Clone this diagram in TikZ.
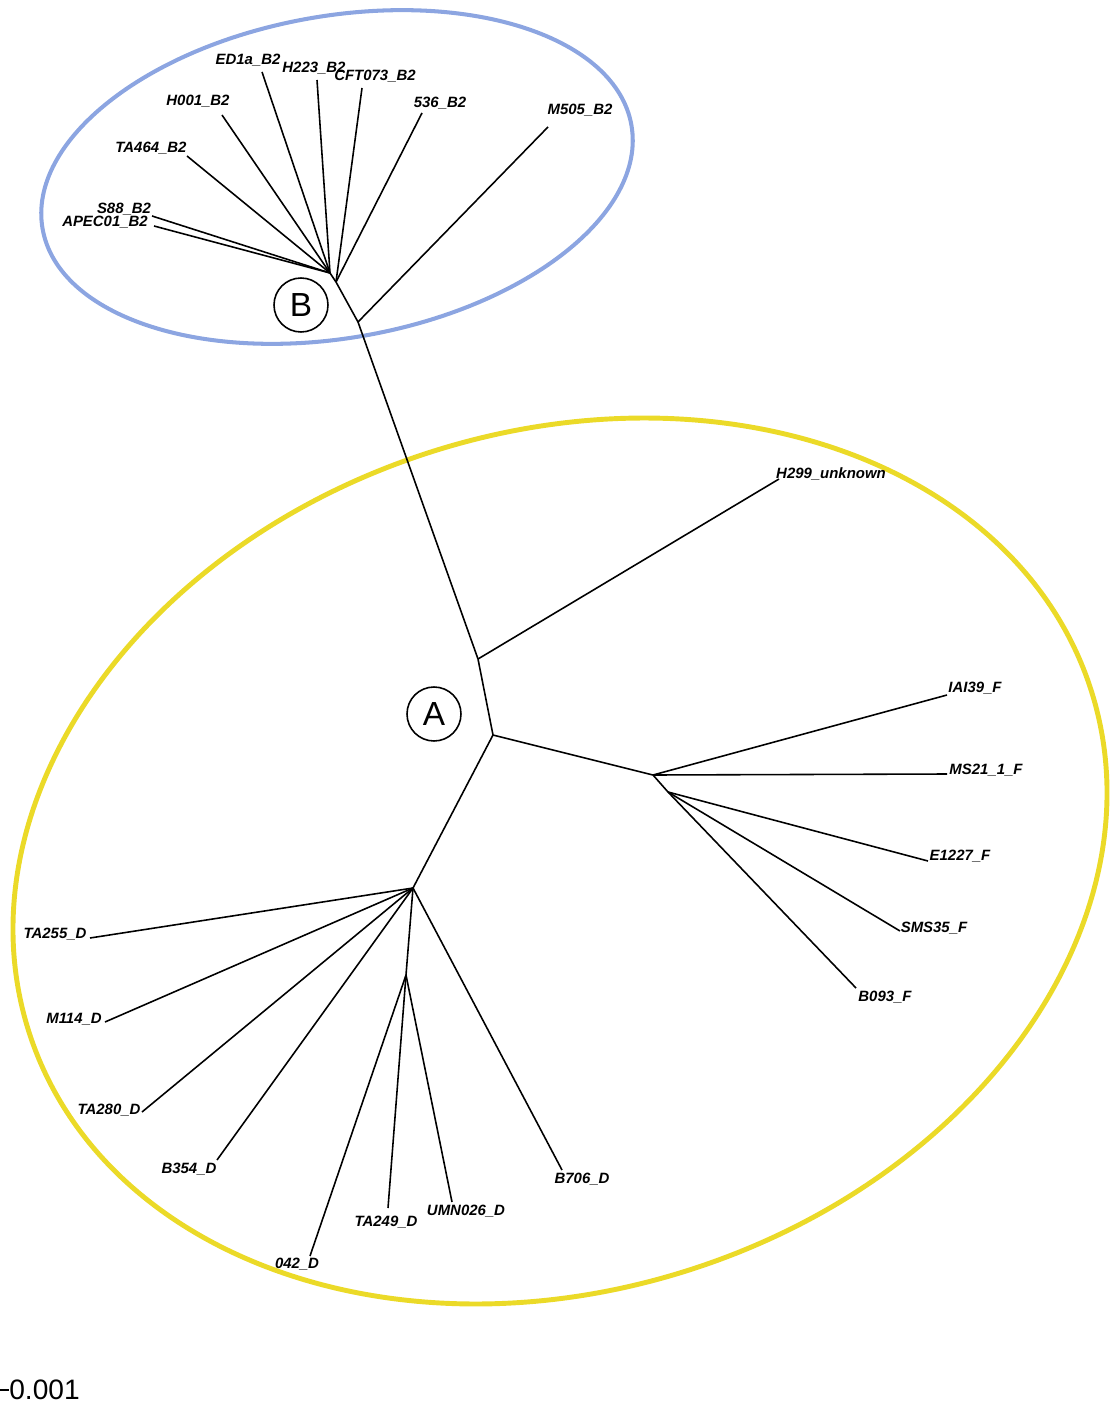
\documentclass[tikz,border=0pt]{standalone}
\usepackage{fontspec}
\setmainfont{Liberation Sans}
\definecolor{blueell}{RGB}{140,165,225}
\definecolor{yellowell}{RGB}{235,218,40}
\begin{document}
\begin{tikzpicture}[x=0.02cm,y=-0.02cm,
  lab/.style={font=\fontsize{8.5}{9}\selectfont\bfseries\itshape, inner sep=0pt},
  br/.style={line width=0.9pt, black},
  tag/.style={circle, draw, line width=0.9pt, minimum size=1.08cm, inner sep=0pt, font=\fontsize{19}{20}\selectfont}]
\useasboundingbox (0,0) rectangle (1116,1405);
% group ellipses
\draw[blueell, line width=2.3pt, rotate around={10:(337,177)}] (337,177) ellipse [x radius=5.98cm, y radius=3.22cm];
\draw[yellowell, line width=2.8pt, rotate around={18:(560,861)}] (560,861) ellipse [x radius=11.16cm, y radius=8.58cm];
% internal nodes
\coordinate (b1) at (330,273);
\coordinate (b2) at (336,282);
\coordinate (b3) at (358,322);
\coordinate (h) at (478,659);
\coordinate (c) at (493,735);
\coordinate (f) at (653,775);
\coordinate (fs) at (668,792);
\coordinate (d) at (413,888);
\coordinate (ds) at (406,975);
% leaf ends
\coordinate (eED) at (262,72);
\coordinate (eH223) at (317,80);
\coordinate (eCFT) at (362,88);
\coordinate (e536) at (422,113);
\coordinate (eM505) at (548,127);
\coordinate (eH001) at (222,115);
\coordinate (eTA464) at (187,156);
\coordinate (eS88) at (152,216);
\coordinate (eAPEC) at (154,226);
\coordinate (eH299) at (779,479);
\coordinate (eIAI) at (947,695);
\coordinate (eMS21) at (947,774);
\coordinate (eE1227) at (928,861);
\coordinate (eSMS) at (900,931);
\coordinate (eB093) at (856,988);
\coordinate (eTA255) at (90,938);
\coordinate (eM114) at (105,1022);
\coordinate (eTA280) at (142,1112);
\coordinate (eB354) at (217,1160);
\coordinate (e042) at (310,1256);
\coordinate (eTA249) at (388,1208);
\coordinate (eUMN) at (452,1202);
\coordinate (eB706) at (562,1170);
% labels
\node[lab] (lED) at (248,60) {ED1a\_B2};
\node[lab] (lH223) at (314,68) {H223\_B2};
\node[lab] (lCFT) at (375,76) {CFT073\_B2};
\node[lab] (l536) at (440,103) {536\_B2};
\node[lab] (lM505) at (580,110) {M505\_B2};
\node[lab] (lH001) at (198,101) {H001\_B2};
\node[lab] (lTA464) at (151,148) {TA464\_B2};
\node[lab] (lS88) at (124,209) {S88\_B2};
\node[lab] (lAPEC) at (105,222) {APEC01\_B2};
\node[lab] (lH299) at (831,474) {H299\_unknown};
\node[lab] (lIAI) at (975,688) {IAI39\_F};
\node[lab] (lMS21) at (986,770) {MS21\_1\_F};
\node[lab] (lE1227) at (960,856) {E1227\_F};
\node[lab] (lSMS) at (934,928) {SMS35\_F};
\node[lab] (lB093) at (885,997) {B093\_F};
\node[lab] (lTA255) at (55,934) {TA255\_D};
\node[lab] (lM114) at (74,1019) {M114\_D};
\node[lab] (lTA280) at (109,1110) {TA280\_D};
\node[lab] (lB354) at (189,1169) {B354\_D};
\node[lab] (l042) at (297,1264) {042\_D};
\node[lab] (lTA249) at (386,1222) {TA249\_D};
\node[lab] (lUMN) at (466,1211) {UMN026\_D};
\node[lab] (lB706) at (582,1179) {B706\_D};
% group tags
\node[tag] (tB) at (301,305) {B};
\node[tag] (tA) at (434,714) {A};
% internal branches
\draw[br] (b1) -- (b2) -- (b3) -- (h) -- (c) -- (f) -- (fs);
\draw[br] (c) -- (d) -- (ds);
% B2 leaves
\draw[br] (b1) -- (eED);
\draw[br] (b1) -- (eH223);
\draw[br] (b1) -- (eH001);
\draw[br] (b1) -- (eTA464);
\draw[br] (b1) -- (eS88);
\draw[br] (b1) -- (eAPEC);
\draw[br] (b2) -- (eCFT);
\draw[br] (b2) -- (e536);
\draw[br] (b3) -- (eM505);
% H299
\draw[br] (h) -- (eH299);
% F leaves
\draw[br] (f) -- (eIAI);
\draw[br] (f) -- (eMS21);
\draw[br] (fs) -- (eE1227);
\draw[br] (fs) -- (eSMS);
\draw[br] (fs) -- (eB093);
% D leaves
\draw[br] (d) -- (eTA255);
\draw[br] (d) -- (eM114);
\draw[br] (d) -- (eTA280);
\draw[br] (d) -- (eB354);
\draw[br] (d) -- (eB706);
\draw[br] (ds) -- (e042);
\draw[br] (ds) -- (eTA249);
\draw[br] (ds) -- (eUMN);
% scale
\node[font=\fontsize{16}{18}\selectfont, anchor=west, inner sep=0pt] (sc) at (9,1390) {0.001};
\coordinate (s0) at (0,1390);
\draw[line width=1pt] (s0) -- (sc.west);
\end{tikzpicture}
\end{document}
